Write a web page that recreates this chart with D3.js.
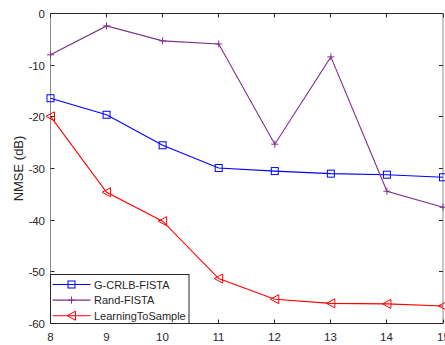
<!DOCTYPE html>
<html>
<head>
<meta charset="utf-8">
<script src="https://d3js.org/d3.v7.min.js"></script>
<style>
  body { margin: 0; background: #fff; }
  text { font-family: "Liberation Sans", Arial, sans-serif; fill: #262626; }
</style>
</head>
<body>
<div id="chart"></div>
<script>
// data
var xValues = [8, 9, 10, 11, 12, 13, 14, 15];
var crlbFista = [-16.4, -19.6, -25.5, -29.9, -30.5, -31.0, -31.2, -31.7];
var randFista = [-8.0, -2.4, -5.3, -5.9, -25.3, -8.4, -34.4, -37.5];
var learnToSample = [-19.9, -34.6, -40.2, -51.3, -55.3, -56.1, -56.2, -56.6];
var yTicks = [0, -10, -20, -30, -40, -50, -60];
var seriesNames = ["G-CRLB-FISTA", "Rand-FISTA", "LearningToSample"];

var svgWidth = 445;
var svgHeight = 345;

var margin = { top: 13.5, right: 2, bottom: 21.5, left: 50.5 };
var width = svgWidth - margin.left - margin.right;
var height = svgHeight - margin.top - margin.bottom;

var svg = d3.select("#chart")
  .append("svg")
  .attr("width", svgWidth)
  .attr("height", svgHeight);

var chartGroup = svg.append("g")
  .attr("transform", `translate(${margin.left}, ${margin.top})`);

var xScale = d3.scaleLinear().domain([8, 15]).range([0, width]);
var yScale = d3.scaleLinear().domain([-60, 0]).range([height, 0]);

// box lines
chartGroup.append("line").attr("x1", 0).attr("x2", width).attr("y1", 0).attr("y2", 0)
  .attr("stroke", "#262626");
chartGroup.append("line").attr("x1", 0).attr("x2", width).attr("y1", height).attr("y2", height)
  .attr("stroke", "#262626");
chartGroup.append("line").attr("x1", 0).attr("x2", 0).attr("y1", 0).attr("y2", height)
  .attr("stroke", "#8c8c8c");
chartGroup.append("line").attr("x1", width).attr("x2", width).attr("y1", 0).attr("y2", height)
  .attr("stroke", "#8c8c8c");

// ticks (inward, both sides)
xValues.forEach(function(v) {
  var x = Math.round(xScale(v));
  chartGroup.append("line").attr("x1", x).attr("x2", x).attr("y1", height).attr("y2", height - 4)
    .attr("stroke", "#262626");
  chartGroup.append("line").attr("x1", x).attr("x2", x).attr("y1", 0).attr("y2", 4)
    .attr("stroke", "#262626");
  chartGroup.append("text")
    .attr("x", x)
    .attr("y", height + 17)
    .attr("text-anchor", "middle")
    .attr("font-size", "11.5px")
    .text(v);
});

yTicks.forEach(function(v) {
  var y = Math.round(yScale(v));
  chartGroup.append("line").attr("x1", 0).attr("x2", 4).attr("y1", y).attr("y2", y)
    .attr("stroke", "#262626");
  chartGroup.append("line").attr("x1", width).attr("x2", width - 4).attr("y1", y).attr("y2", y)
    .attr("stroke", "#262626");
  chartGroup.append("text")
    .attr("x", -5.5)
    .attr("y", y + 4)
    .attr("text-anchor", "end")
    .attr("font-size", "11.5px")
    .text(v);
});

// y axis title
chartGroup.append("text")
  .attr("transform", "rotate(-90)")
  .attr("x", 0 - (height / 2))
  .attr("y", -27.5)
  .attr("text-anchor", "middle")
  .attr("font-size", "13px")
  .text("NMSE (dB)");

var colors = ["#0000ff", "#7e2f8e", "#ff0000"];
var allSeries = [crlbFista, randFista, learnToSample];

var line = d3.line()
  .x(function(d, i) { return xScale(xValues[i]); })
  .y(function(d) { return yScale(d); });

function drawMarker(g, kind, x, y, color) {
  if (kind === 0) {
    g.append("rect").attr("x", x - 3.5).attr("y", y - 3.5).attr("width", 7).attr("height", 7)
      .attr("fill", "none").attr("stroke", color).attr("stroke-width", 1);
  } else if (kind === 1) {
    g.append("path").attr("d", `M${x - 3.5},${y}H${x + 3.5}M${x},${y - 3.5}V${y + 3.5}`)
      .attr("stroke", color).attr("stroke-width", 1);
  } else {
    g.append("path").attr("d", `M${x - 4.5},${y}L${x + 4},${y - 4.5}L${x + 4},${y + 4.5}Z`)
      .attr("fill", "none").attr("stroke", color).attr("stroke-width", 1);
  }
}

allSeries.forEach(function(series, s) {
  chartGroup.append("path")
    .datum(series)
    .attr("d", line)
    .attr("fill", "none")
    .attr("stroke", colors[s])
    .attr("stroke-width", 1.1);
  series.forEach(function(d, i) {
    drawMarker(chartGroup, s, xScale(xValues[i]), yScale(d), colors[s]);
  });
});

// legend
var legend = svg.append("g").attr("transform", "translate(50.5, 274.5)");
legend.append("rect")
  .attr("width", 138.5)
  .attr("height", 49)
  .attr("fill", "#fff")
  .attr("stroke", "#262626");

seriesNames.forEach(function(name, s) {
  var y = 10 + s * 15.6;
  legend.append("line").attr("x1", 2).attr("x2", 40).attr("y1", y).attr("y2", y)
    .attr("stroke", colors[s]).attr("stroke-width", 1.1);
  drawMarker(legend, s, 21, y, colors[s]);
  legend.append("text")
    .attr("x", 43.5)
    .attr("y", y + 4)
    .attr("font-size", "11px")
    .text(name);
});
</script>
</body>
</html>
